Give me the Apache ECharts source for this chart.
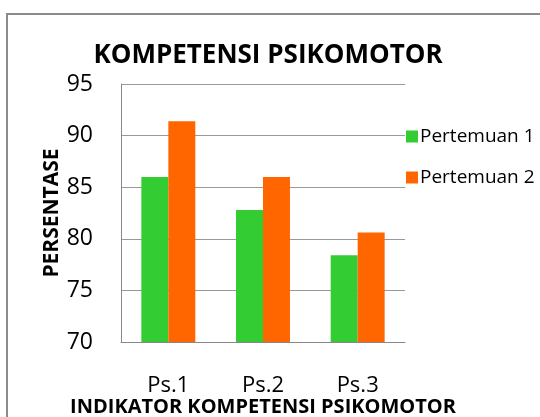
<!DOCTYPE html>
<html><head><meta charset="utf-8">
<script src="https://cdn.jsdelivr.net/npm/echarts@6/dist/echarts.min.js"></script>
<style>html,body{margin:0;padding:0;background:#fff}#c{width:540px;height:417px}</style>
</head><body><div id="c"></div>
<script>
var categories = ['Ps.1', 'Ps.2', 'Ps.3'];
var pertemuan1 = [86.0, 82.8, 78.4];
var pertemuan2 = [91.4, 86.0, 80.6];
var seriesNames = ['Pertemuan 1', 'Pertemuan 2'];
var chart = echarts.init(document.getElementById('c'));
var F = '"Open Sans", "Noto Sans", sans-serif';
chart.setOption({
  animation: false,
  textStyle: {fontFamily: F},
  graphic: [{type: 'rect', shape: {x: 7, y: 14, width: 600, height: 500}, style: {fill: 'none', stroke: '#8c8c8c', lineWidth: 2}, silent: true}],
  title: {text: 'KOMPETENSI PSIKOMOTOR', left: 263, textAlign: 'center', top: 38,
    textStyle: {fontFamily: F, fontSize: 26, fontWeight: 'bold', color: '#000'}},
  legend: {orient: 'vertical', left: 401, top: 122, itemWidth: 12, itemHeight: 12, itemGap: 22,
    icon: 'rect', textStyle: {fontFamily: F, fontSize: 19, color: '#000', padding: [0,0,0,-3]},
    data: seriesNames},
  grid: {left: 121, right: 135, top: 84, bottom: 75, outerBoundsMode: 'none', containLabel: false},
  xAxis: {type: 'category', data: categories,
    name: 'INDIKATOR KOMPETENSI PSIKOMOTOR', nameLocation: 'middle', nameGap: 55, nameMoveOverlap: false,
    nameTextStyle: {fontFamily: F, fontSize: 20, fontWeight: 'bold', color: '#000'},
    axisLine: {lineStyle: {color: '#888', width: 1}}, axisTick: {show: false},
    axisLabel: {margin: 33, fontSize: 22, color: '#000', fontFamily: F}},
  yAxis: {type: 'value', min: 70, max: 95, interval: 5,
    name: 'PERSENTASE', nameLocation: 'middle', nameGap: 58, nameRotate: 90, nameMoveOverlap: false,
    nameTextStyle: {fontFamily: F, fontSize: 21, fontWeight: 'bold', color: '#000'},
    axisLine: {show: true, lineStyle: {color: '#888', width: 1}}, axisTick: {show: false},
    splitLine: {lineStyle: {color: '#999', width: 1}},
    axisLabel: {margin: 28, fontSize: 23, color: '#000', fontFamily: F}},
  series: [
    {name: seriesNames[0], type: 'bar', data: pertemuan1, barGap: '0%', barCategoryGap: '43%',
      itemStyle: {color: '#33CC33'}},
    {name: seriesNames[1], type: 'bar', data: pertemuan2,
      itemStyle: {color: '#FF6600'}}
  ]
});
</script></body></html>
